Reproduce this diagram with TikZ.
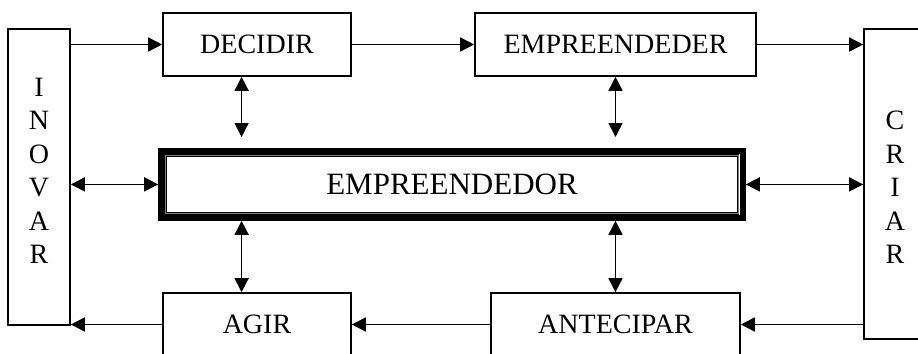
\documentclass[tikz,border=0pt]{standalone}
\usepackage{fontspec}
\setmainfont{Liberation Serif}
\usepackage{tikz}
\usetikzlibrary{arrows.meta, positioning}

\begin{document}
\begin{tikzpicture}[x=0.5pt, y=-0.5pt,
  every node/.style={font=\fontsize{14}{16.75}\selectfont, align=center},
  box/.style={draw, line width=0.8pt, minimum height=31.5pt, inner sep=0pt},
  sidebox/.style={draw, line width=0.8pt, minimum width=31pt, inner sep=0pt},
  core/.style={draw, line width=2.8pt, minimum width=291pt, minimum height=33.6pt,
               font=\fontsize{15.5}{18}\selectfont},
  arr/.style={-{Triangle[length=7pt, width=7pt]}, line width=0.8pt},
  dbl/.style={{Triangle[length=7pt, width=7pt]}-{Triangle[length=7pt, width=7pt]}, line width=0.8pt}
]
  \useasboundingbox (0,0) rectangle (918,354);
  \clip (0,0) rectangle (918,354);

  \node[sidebox, minimum height=148pt,
        label={[align=center, yshift=3pt]center:{I\\N\\O\\V\\A\\R}}] (inovar) at (39,177) {};
  \node[sidebox, minimum height=155pt,
        label={[align=center, yshift=-1.75pt]center:{C\\R\\I\\A\\R}}] (criar) at (895,184) {};
  \node[box, minimum width=94pt] (decidir) at (257,44.5) {DECIDIR};
  \node[box, minimum width=140.5pt] (empreendeder) at (615.5,44.5) {EMPREENDEDER};
  \node[box, minimum width=94pt] (agir) at (257,324.5) {AGIR};
  \node[box, minimum width=124.5pt] (antecipar) at (615.5,324.5) {ANTECIPAR};
  \node[core] (centro) at (452,184.4) {EMPREENDEDOR};
  \draw[line width=0.45pt, double=gray, double distance=0.5pt]
    ([shift={(3.75pt,-3.75pt)}]centro.north west) rectangle
    ([shift={(-3.9pt,3.6pt)}]centro.south east);

  \coordinate (dec) at ([xshift=-7.7pt]decidir.south);
  \coordinate (ag) at ([xshift=-7.7pt]agir.north);

  \draw[arr] (inovar.east |- decidir.west) -- (decidir.west);
  \draw[arr] (decidir.east) -- (empreendeder.west);
  \draw[arr] (empreendeder.east) -- (criar.west |- empreendeder.east);
  \draw[dbl] (inovar.east |- centro.west) -- (centro.west);
  \draw[dbl] (centro.east) -- (criar.west |- centro.east);
  \draw[arr] (criar.west |- antecipar.east) -- (antecipar.east);
  \draw[arr] (antecipar.west) -- (agir.east);
  \draw[arr] (agir.west) -- (inovar.east |- agir.west);

  \draw[dbl, shorten >=5.5pt] (dec) -- (dec |- centro.north);
  \draw[dbl, shorten >=5.5pt] (empreendeder.south) -- (empreendeder.south |- centro.north);
  \draw[dbl] (ag |- centro.south) -- (ag);
  \draw[dbl] (antecipar.north |- centro.south) -- (antecipar.north);
\end{tikzpicture}
\end{document}
